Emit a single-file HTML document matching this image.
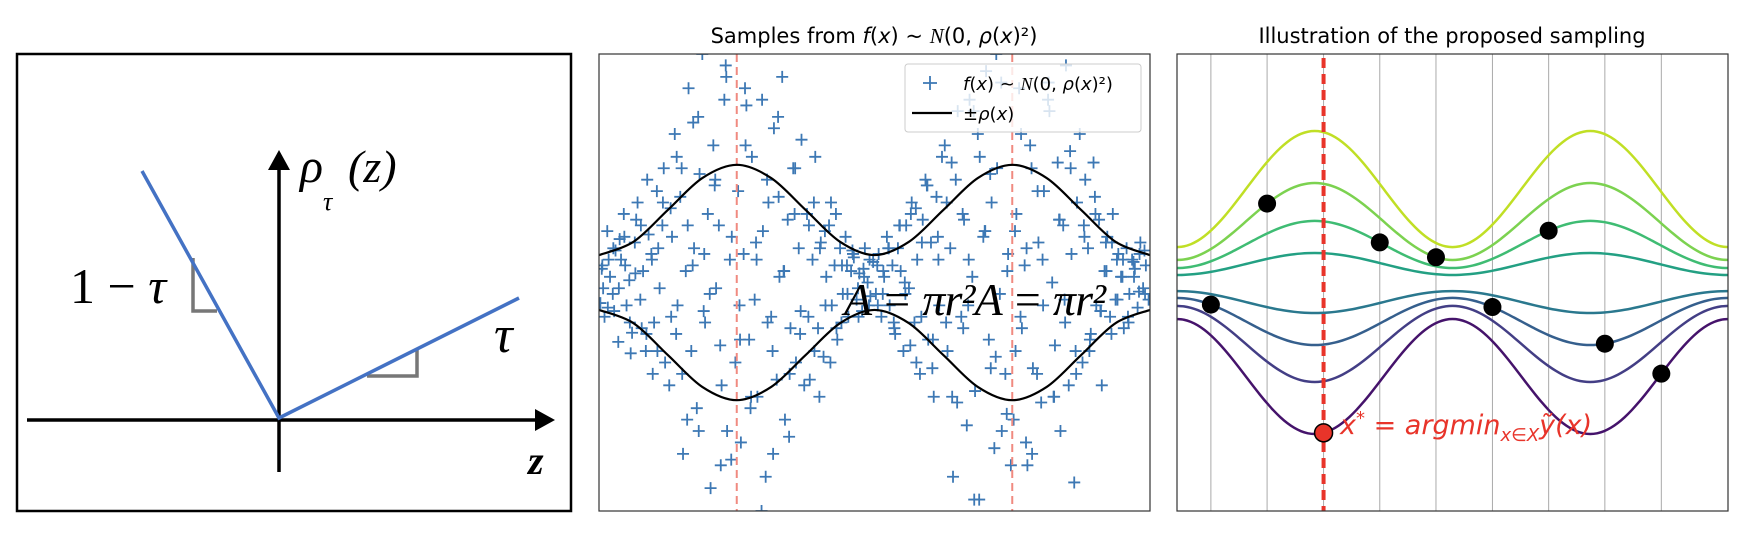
<!DOCTYPE html>
<html><head><meta charset="utf-8"><style>
html,body{margin:0;padding:0;background:#fff;}
svg{display:block;}
</style></head><body>
<svg id="fig" width="1752" height="536" viewBox="0 0 1752 536" xmlns="http://www.w3.org/2000/svg">
<g>
<rect x="17" y="54" width="554" height="457" fill="#fff" stroke="#000" stroke-width="2.5"/>
<line x1="27" y1="420" x2="537" y2="420" stroke="#000" stroke-width="3.5"/>
<polygon points="555,420 535,409 535,431" fill="#000"/>
<line x1="279" y1="472" x2="279" y2="168" stroke="#000" stroke-width="3.5"/>
<polygon points="279,150 268,170 290,170" fill="#000"/>
<polyline points="193,258 193,311 217,311" fill="none" stroke="#777" stroke-width="3.5"/>
<polyline points="367,376 417,376 417,350" fill="none" stroke="#777" stroke-width="3.5"/>
<polyline points="142,171 279,418 519,298" fill="none" stroke="#4472c4" stroke-width="3.5"/>
<text x="300" y="182" font-family="Liberation Serif, serif" font-style="italic" font-size="48">ρ</text>
<text x="323" y="210" font-family="Liberation Serif, serif" font-style="italic" font-size="26">τ</text>
<text x="348" y="182" font-family="Liberation Serif, serif" font-style="italic" font-size="46">(z)</text>
<text x="70" y="303" font-family="Liberation Serif, serif" font-size="50">1 − <tspan font-style="italic">τ</tspan></text>
<text x="494" y="352" font-family="Liberation Serif, serif" font-style="italic" font-size="52">τ</text>
<text x="528" y="474" font-family="Liberation Serif, serif" font-style="italic" font-weight="bold" font-size="40">z</text>
</g>
<g id="p2">
<defs><clipPath id="c2"><rect x="599" y="54" width="551" height="457"/></clipPath>
<clipPath id="c3"><rect x="1177" y="54" width="551" height="457"/></clipPath></defs>
<text x="874" y="43" text-anchor="middle" font-family="DejaVu Sans, sans-serif" font-size="21">Samples from <tspan font-style="italic">f</tspan>(<tspan font-style="italic">x</tspan>)  ~  <tspan font-style="italic" font-family="Liberation Serif, serif">N</tspan>(0, <tspan font-style="italic">ρ</tspan>(<tspan font-style="italic">x</tspan>)²)</text>
<g id="p2marks" clip-path="url(#c2)"></g>
<rect x="599" y="54" width="551" height="457" fill="none" stroke="#333" stroke-width="1.2"/>
</g>
<g id="p3">
<text x="1452" y="43" text-anchor="middle" font-family="DejaVu Sans, sans-serif" font-size="21">Illustration of the proposed sampling</text>
<g id="p3marks" clip-path="url(#c3)"></g>
<rect x="1177" y="54" width="551" height="457" fill="none" stroke="#333" stroke-width="1.2"/>
</g>
</svg>
<script>
// ---- Panel 2 data ----
var rhoX = [0,0.125,0.25,0.375,0.5,0.625,0.75,0.875,1,1.125,1.25,1.375,1.5,1.625,1.75,1.875,2];
var rhoVals = [0.24,0.356,0.635,0.914,1.03,0.914,0.635,0.356,0.24,0.356,0.635,0.914,1.03,0.914,0.635,0.356,0.24];
var peakLinesX = [0.5,1.5];
var sampleX = [
0.005,0.01,0.02,0.03,0.04,0.05,0.06,0.07,0.08,0.09,0.10,0.11,0.12,0.13,0.14,0.15,0.16,0.17,0.18,0.19,0.20,0.21,0.22,0.23,0.24,0.015,0.035,0.055,0.075,0.095,0.115,0.135,0.155,0.175,0.195,0.215,0.235,
0.255,0.265,0.275,0.285,0.295,0.305,0.315,0.325,0.335,0.345,0.355,0.365,0.375,0.385,0.395,0.405,0.415,0.425,0.435,0.445,0.455,0.465,0.475,0.485,0.495,0.26,0.28,0.30,0.32,0.34,0.36,0.38,0.40,0.42,0.44,0.46,0.48,
0.505,0.515,0.525,0.535,0.545,0.555,0.565,0.575,0.585,0.595,0.605,0.615,0.625,0.635,0.645,0.655,0.665,0.675,0.685,0.695,0.705,0.715,0.725,0.735,0.745,0.51,0.53,0.55,0.57,0.59,0.61,0.63,0.65,0.67,0.69,0.71,0.73,
0.755,0.765,0.775,0.785,0.795,0.805,0.815,0.825,0.835,0.845,0.855,0.865,0.875,0.885,0.895,0.905,0.915,0.925,0.935,0.945,0.955,0.965,0.975,0.985,0.995,0.76,0.78,0.80,0.82,0.84,0.86,0.88,0.90,0.92,0.94,0.96,0.98,
1.005,1.015,1.025,1.035,1.045,1.055,1.065,1.075,1.085,1.095,1.105,1.115,1.125,1.135,1.145,1.155,1.165,1.175,1.185,1.195,1.205,1.215,1.225,1.235,1.245,1.01,1.03,1.05,1.07,1.09,1.11,1.13,1.15,1.17,1.19,1.21,1.23,
1.255,1.265,1.275,1.285,1.295,1.305,1.315,1.325,1.335,1.345,1.355,1.365,1.375,1.385,1.395,1.405,1.415,1.425,1.435,1.445,1.455,1.465,1.475,1.485,1.495,1.26,1.28,1.30,1.32,1.34,1.36,1.38,1.40,1.42,1.44,1.46,1.48,
1.505,1.515,1.525,1.535,1.545,1.555,1.565,1.575,1.585,1.595,1.605,1.615,1.625,1.635,1.645,1.655,1.665,1.675,1.685,1.695,1.705,1.715,1.725,1.735,1.745,1.51,1.53,1.55,1.57,1.59,1.61,1.63,1.65,1.67,1.69,1.71,1.73,
1.755,1.765,1.775,1.785,1.795,1.805,1.815,1.825,1.835,1.845,1.855,1.865,1.875,1.885,1.895,1.905,1.915,1.925,1.935,1.945,1.955,1.965,1.975,1.985,1.995,1.76,1.78,1.80,1.82,1.84,1.86,1.88,1.90,1.92,1.94,1.96,1.98,
0.012,0.032,0.052,0.072,0.092,0.112,0.132,0.152,0.172,0.192,0.212,0.232,
0.262,0.282,0.302,0.322,0.342,0.362,0.382,0.402,0.422,0.442,0.462,0.482,
0.512,0.532,0.552,0.572,0.592,0.612,0.632,0.652,0.672,0.692,0.712,0.732,
0.762,0.782,0.802,0.822,0.842,0.862,0.882,0.902,0.922,0.942,0.962,0.982,
1.012,1.032,1.052,1.072,1.092,1.112,1.132,1.152,1.172,1.192,1.212,1.232,
1.262,1.282,1.302,1.322,1.342,1.362,1.382,1.402,1.422,1.442,1.462,1.482,
1.512,1.532,1.552,1.572,1.592,1.612,1.632,1.652,1.672,1.692,1.712,1.732,
1.762,1.782,1.802,1.822,1.842,1.862,1.882,1.902,1.922,1.942,1.962,1.982];
var sampleY = [
-0.18,0.12,-0.3,0.45,0.05,-0.1,0.28,-0.52,0.2,0.6,-0.2,0.02,-0.44,0.35,0.7,-0.15,0.1,-0.6,0.42,0.25,-0.35,0.8,-0.05,0.5,-0.7,-0.05,0.2,-0.25,0.38,0.15,-0.62,0.55,-0.4,0.9,-0.8,0.3,1.0,
-0.9,0.4,1.3,-0.2,0.75,-1.5,0.1,1.7,-0.6,0.3,-1.1,0.95,2.0,-0.35,0.6,-1.8,1.2,-0.05,0.5,-0.9,1.6,-1.3,0.2,2.3,-0.7,0.65,-0.45,1.0,-1.2,0.15,1.45,-0.25,-2.1,0.85,-0.55,1.9,-1.55,
0.8,-1.4,0.25,1.55,-0.5,1.1,-0.15,-1.0,2.1,0.45,-1.7,0.7,-0.3,1.35,-0.85,0.05,1.8,-1.2,0.55,-0.4,1.0,-0.7,0.3,1.25,-0.9,-0.2,1.7,-1.1,0.35,-2.0,0.9,-0.6,1.45,0.1,-1.35,0.6,-0.45,
0.6,-0.85,0.2,1.1,-0.4,0.35,-0.65,0.05,0.5,-0.2,0.15,-0.5,0.3,-0.1,0.4,-0.3,0.1,0.22,-0.15,0.08,-0.25,0.3,0.0,-0.12,0.18,-0.3,0.7,-1.0,0.45,-0.7,0.6,-0.35,0.15,0.28,-0.05,0.12,-0.2,
-0.1,0.25,-0.3,0.05,0.4,-0.2,0.15,-0.45,0.3,0.1,-0.6,0.5,-0.05,0.7,-0.35,0.2,-0.8,0.55,0.9,-0.5,0.35,-1.0,0.75,-0.2,1.1,0.15,-0.1,0.3,-0.35,0.5,0.0,-0.55,0.65,-0.3,0.85,-0.75,0.4,
1.2,-0.6,0.3,-1.7,0.9,2.2,-0.3,0.55,-1.25,1.6,0.05,-0.95,1.3,-2.2,0.4,1.85,-0.5,0.7,-1.45,1.0,-0.1,2.5,-0.8,0.25,-1.6,-0.35,1.05,-1.05,0.6,-0.2,1.5,-1.9,0.45,0.95,-0.65,1.75,-1.15,
-1.2,0.6,1.7,-0.4,0.15,-1.6,1.2,-0.75,2.3,0.35,-1.05,0.8,-2.3,1.5,0.0,-0.55,1.05,-1.3,0.5,1.9,-0.9,0.25,-1.75,0.7,1.3,0.45,-0.3,-1.4,1.0,-0.8,0.2,1.6,-1.0,0.55,-0.15,1.15,-0.6,
-0.7,0.9,0.3,-0.45,1.05,-0.2,0.55,-0.9,0.1,0.4,-0.3,0.6,-0.15,0.25,0.05,-0.4,0.3,-0.1,0.2,0.12,-0.22,0.35,-0.05,0.15,-0.15,0.5,-0.6,0.75,-0.25,0.35,-0.45,0.2,0.05,-0.3,0.18,-0.08,0.28,
0.15,-0.22,0.3,-0.05,0.4,-0.35,0.08,0.5,-0.45,0.2,-0.6,0.7,
-0.3,1.1,-0.8,0.5,1.4,-1.3,0.25,-0.1,0.9,-1.6,1.8,0.4,
-0.5,1.2,-1.0,0.2,1.6,-0.35,-1.5,0.75,0.1,-0.8,1.0,-0.25,
0.5,-0.6,0.3,-0.2,0.7,-0.4,0.15,-0.1,0.25,-0.3,0.05,0.2,
-0.2,0.1,0.3,-0.4,0.5,-0.1,0.6,-0.7,0.35,0.85,-0.5,0.2,
0.7,-1.0,1.5,-0.4,0.2,-1.9,1.1,0.45,-0.75,2.0,-1.3,0.1,
-0.6,1.3,0.3,-1.5,0.8,-0.2,1.75,-1.0,0.55,-0.35,1.0,-0.8,
0.4,-0.5,0.6,-0.25,0.1,0.35,-0.15,0.2,-0.35,0.05,0.25,-0.1];
// ---- Panel 3 data ----
var curveCenters = [0.818,0.534,0.333,0.162,-0.171,-0.341,-0.538,-0.823];
var curveAmps = [0.508,0.337,0.206,0.096,-0.096,-0.206,-0.333,-0.503];
var curveColors = ['#c0df25','#7cd250','#3fbc73','#23a083','#2a788e','#355f8d','#433e85','#45136b'];
var gridXs = [0.123,0.327,0.532,0.736,0.940,1.145,1.349,1.553,1.758];
var dotCurve = [5,1,7,2,1,5,2,5,7];
var argminIndex = 2;

var NS='http://www.w3.org/2000/svg';
function mk(tag,attrs,parent){var e=document.createElementNS(NS,tag);for(var k in attrs)e.setAttribute(k,attrs[k]);parent.appendChild(e);return e;}
function x2(v){return 599+v*275.5;}
function y2(v){return 282.5-v*114.25;}
function x3(v){return 1177+v*275.5;}
function y3(v){return 282.5-v*114.25;}
function crPath(pts){
  var d='M'+pts[0][0]+','+pts[0][1];
  for(var i=0;i<pts.length-1;i++){
    var p0=pts[i-1]||pts[i],p1=pts[i],p2=pts[i+1],p3=pts[i+2]||pts[i+1];
    var c1=[p1[0]+(p2[0]-p0[0])/6,p1[1]+(p2[1]-p0[1])/6];
    var c2=[p2[0]-(p3[0]-p1[0])/6,p2[1]-(p3[1]-p1[1])/6];
    d+=' C'+c1[0]+','+c1[1]+' '+c2[0]+','+c2[1]+' '+p2[0]+','+p2[1];
  }
  return d;
}
var g2=document.getElementById('p2marks');
for(var i=0;i<sampleX.length;i++){
  var cx=x2(sampleX[i]),cy=y2(sampleY[i]);
  var pl=mk('path',{d:'M'+(cx-6)+','+cy+'H'+(cx+6)+'M'+cx+','+(cy-6)+'V'+(cy+6),stroke:'#3d78b4','stroke-width':1.8,fill:'none'},g2);
  
  
}
peakLinesX.forEach(function(v){
  var l=mk('line',{x1:x2(v),x2:x2(v),y1:54,y2:511,stroke:'#f08a80','stroke-width':2,'stroke-dasharray':'8,5'},g2);
  
  
});
var up=[],lo=[];
for(var i=0;i<rhoX.length;i++){up.push([x2(rhoX[i]),y2(rhoVals[i])]);lo.push([x2(rhoX[i]),y2(-rhoVals[i])]);}
var pu=mk('path',{d:crPath(up),stroke:'#000','stroke-width':2.2,fill:'none'},g2);


var pd=mk('path',{d:crPath(lo),stroke:'#000','stroke-width':2.2,fill:'none'},g2);


var ann=mk('text',{x:844,y:315,'font-family':'Liberation Serif, serif','font-style':'italic','font-size':46,'textLength':262},g2);
ann.textContent='A = πr²A = πr²';


var lg=mk('g',{},document.getElementById('p2'));


mk('rect',{x:905,y:64,width:236,height:68,rx:3,fill:'#fff','fill-opacity':0.8,stroke:'#ccc'},lg);
var lm=mk('path',{d:'M923,83H937M930,76V90',stroke:'#3d78b4','stroke-width':1.8},lg);


var lt=mk('text',{x:963,y:90,'font-family':'DejaVu Sans, sans-serif','font-size':18},lg);
lt.innerHTML='<tspan font-style="italic">f</tspan>(<tspan font-style="italic">x</tspan>)  ~  <tspan font-style="italic" font-family="Liberation Serif, serif">N</tspan>(0, <tspan font-style="italic">ρ</tspan>(<tspan font-style="italic">x</tspan>)²)';


var ll=mk('line',{x1:912,x2:952,y1:113,y2:113,stroke:'#000','stroke-width':2.2},lg);


var lt2=mk('text',{x:963,y:120,'font-family':'DejaVu Sans, sans-serif','font-size':18},lg);
lt2.innerHTML='±<tspan font-style="italic">ρ</tspan>(<tspan font-style="italic">x</tspan>)';



var g3=document.getElementById('p3marks');
gridXs.forEach(function(v){
  var l=mk('line',{x1:x3(v),x2:x3(v),y1:54,y2:511,stroke:'#aaa','stroke-width':1},g3);
  
  
});
function curveVal(k,x){return curveCenters[k]+curveAmps[k]*Math.cos(2*Math.PI*(x-0.5));}
for(var k=0;k<curveCenters.length;k++){
  var pts=[];
  for(var s=0;s<=80;s++){var xv=s/40;pts.push([x3(xv),y3(curveVal(k,xv))]);}
  var c=mk('path',{d:crPath(pts),stroke:curveColors[k],'stroke-width':2.5,fill:'none'},g3);
  
  
}
var rl=mk('line',{x1:x3(gridXs[argminIndex]),x2:x3(gridXs[argminIndex]),y1:58,y2:511,stroke:'#e8342a','stroke-width':4,'stroke-dasharray':'10,6'},g3);


for(var i=0;i<gridXs.length;i++){
  var isMin=(i===argminIndex);
  var d=mk('circle',{cx:x3(gridXs[i]),cy:y3(curveVal(dotCurve[i],gridXs[i])),r:9,fill:isMin?'#e8342a':'#000',stroke:'#000','stroke-width':isMin?1.5:0},g3);
  
  
}
var at=mk('text',{x:1340,y:434,fill:'#e8342a','font-family':'DejaVu Sans, sans-serif','font-style':'italic','font-size':27},g3);
at.innerHTML='x<tspan dy="-10" font-size="18">*</tspan><tspan dy="10"> = argmin</tspan><tspan dy="7" font-size="18">x∈X</tspan><tspan dy="-7">ỹ(x)</tspan>';


</script>
</body></html>
